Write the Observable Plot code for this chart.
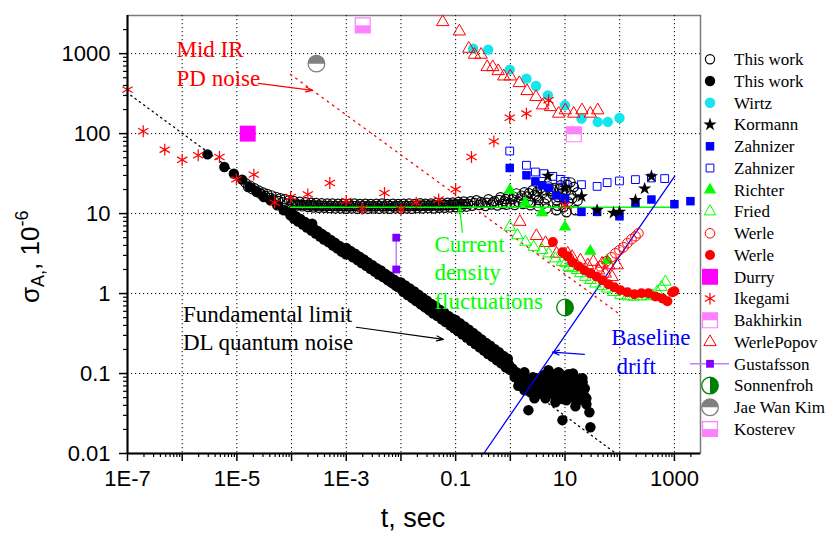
<!DOCTYPE html>
<html><head><meta charset="utf-8">
<script src="https://cdn.jsdelivr.net/npm/d3@7"></script>
<script src="https://cdn.jsdelivr.net/npm/@observablehq/plot@0.6"></script>
<style>
body{margin:0;background:#fff;}
#chart{width:828px;height:533px;}
</style></head><body><div id="chart"></div>
<script>
// ---------- data: [t (s), sigma_A (1e-6)] ----------
const thisWorkOpen = [
[1.45e-5,24],[1.6e-5,21.5],[1.75e-5,22.4],[1.9e-5,20.2],[2.1e-5,20.8],[2.3e-5,18.8],[2.5e-5,19.5],[2.75e-5,17.6],[3e-5,18.4],[3.3e-5,16.6],[3.6e-5,17.6],[4e-5,15.7],[4.3e-5,16.9],[4.7e-5,15.0],[5.2e-5,16.2],[5.7e-5,14.4],[6.2e-5,15.6],[6.8e-5,13.9],[7.5e-5,15.1],[8.2e-5,13.4],[9e-5,14.7],[1e-4,13.0],
[1.1e-4,14.4],[1.26e-4,12.6],[1.4e-4,14.1],[1.58e-4,12.3],[1.8e-4,13.9],[2e-4,12.1],[2.25e-4,13.7],[2.5e-4,11.9],[2.8e-4,13.6],[3.16e-4,11.8],[3.55e-4,13.5],[4e-4,11.8],[4.5e-4,13.4],[5e-4,11.7],[5.6e-4,13.4],[6.3e-4,11.6],[7.1e-4,13.3],[7.9e-4,11.6],[8.9e-4,13.3],
[1.05e-4,13.4],[1.19e-4,13.1],[1.33e-4,13.0],[1.5e-4,12.9],[1.68e-4,12.8],[1.9e-4,12.8],[2.12e-4,12.7],[2.38e-4,12.7],[2.65e-4,12.6],[3e-4,12.6],[3.35e-4,12.6],[3.75e-4,12.5],[4.25e-4,12.5],[4.75e-4,12.5],[5.3e-4,12.5],[6e-4,12.4],[6.7e-4,12.4],[7.5e-4,12.4],[8.4e-4,12.4],[9.4e-4,12.4],
[1e-3,11.5],[1.12e-3,13.2],[1.26e-3,11.6],[1.41e-3,13.4],[1.58e-3,11.5],[1.78e-3,13.2],[2e-3,11.6],[2.24e-3,13.3],[2.5e-3,11.5],[2.8e-3,13.2],[3.16e-3,11.6],[3.55e-3,13.3],[4e-3,11.5],[4.5e-3,13.4],[5e-3,11.6],[5.6e-3,13.2],[6.3e-3,11.5],[7.1e-3,13.3],[7.9e-3,11.6],[8.9e-3,13.2],
[1.06e-3,12.4],[1.19e-3,12.3],[1.33e-3,12.5],[1.5e-3,12.4],[1.68e-3,12.3],[1.9e-3,12.4],[2.12e-3,12.5],[2.38e-3,12.3],[2.65e-3,12.4],[3e-3,12.4],[3.35e-3,12.3],[3.75e-3,12.5],[4.25e-3,12.4],[4.75e-3,12.3],[5.3e-3,12.4],[6e-3,12.5],[6.7e-3,12.4],[7.5e-3,12.3],[8.4e-3,12.4],[9.4e-3,12.5],
[1e-2,11.5],[1.12e-2,13.3],[1.26e-2,11.6],[1.41e-2,13.4],[1.58e-2,11.5],[1.78e-2,13.2],[2e-2,11.7],[2.24e-2,13.5],[2.5e-2,11.6],[2.8e-2,13.3],[3.16e-2,11.7],[3.55e-2,13.4],[4e-2,11.6],[4.5e-2,13.6],[5e-2,11.8],[5.6e-2,13.5],[6.3e-2,11.8],[7.1e-2,13.7],[7.9e-2,11.9],[8.9e-2,13.8],
[1.06e-2,12.4],[1.19e-2,12.5],[1.33e-2,12.4],[1.5e-2,12.5],[1.68e-2,12.4],[1.9e-2,12.6],[2.12e-2,12.5],[2.38e-2,12.5],[2.65e-2,12.6],[3e-2,12.5],[3.35e-2,12.6],[3.75e-2,12.6],[4.25e-2,12.7],[4.75e-2,12.6],[5.3e-2,12.7],[6e-2,12.7],[6.7e-2,12.8],[7.5e-2,12.8],[8.4e-2,12.9],[9.4e-2,13.0],
[0.1,12.0],[0.112,14.0],[0.126,12.1],[0.141,14.2],[0.158,12.2],[0.106,13.0],[0.119,13.1],[0.133,13.1],[0.15,13.2],[0.168,13.3],
[0.187,14.3],[0.2,12.5],[0.24,14.7],[0.27,12.8],[0.309,13.4],[0.35,12.4],[0.398,15.1],[0.45,13.0],[0.512,14.3],[0.58,12.6],[0.659,16.0],[0.72,13.2],[0.78,14.3],[0.86,12.9],[0.923,16.9],[1.0,13.5],[1.09,15.1],[1.2,12.8],[1.29,17.9],[1.4,14.0],[1.53,15.5],[1.7,13.2],[1.81,18.5],[2.0,16.4],[2.14,14.3],[2.33,12.7],[2.4,13.8],[2.54,19.6],[2.8,17.2],[3.0,16.5],[3.27,12.3],[3.3,14.8],[3.55,20.7],[3.9,18.0],[4.2,13.4],[4.57,11.6],[4.6,15.5],[4.97,21.9],[5.4,19.0],[5.89,17.4],[6.4,21.0],[6.97,14.7],[6.97,11.0],[7.5,16.0],[8.24,22.6],[8.8,18.0],[9.35,12.0],[10.6,19.6],[10.6,10.4],[11.5,14.0],[12.6,24.6],[13.6,15.5],[14.5,21.5],[15.5,11.0],[16.9,18.5],[17,14.5],
[0.22,13.6],[0.29,14.0],[0.37,13.7],[0.48,13.8],[0.62,14.8],[0.82,15.2],[1.15,16.3],[1.6,16.8],[2.2,18.0],[3.1,18.8],[4.4,19.5],[6.0,20.0],[8.0,20.5],[11,23.0],[13,17.0],[9.5,15.5],[7.2,12.5]
];
const thisWorkFilled = [
[2.9e-6,55],[5.9e-6,38.2],[8.8e-6,31.6],[1.25e-5,26.6],[1.7e-5,21.5],[2.3e-5,18.6],[3.1e-5,16.1],[4.1e-5,14.7],[5.45e-5,12.7],[7.2e-5,11.0],[9.5e-5,9.5],[1.27e-4,8.25],
[1e-4,10.2],[1.2e-4,9.3],[1.45e-4,8.6],[1.75e-4,7.85],[2.1e-4,7.2],[2.5e-4,6.6],[3e-4,6.07],[3.6e-4,5.56],[4.3e-4,5.15],[5.2e-4,4.68],[6.2e-4,4.34],[7.5e-4,3.93],[9e-4,3.65],
[1.1e-4,8.67],[1.32e-4,7.94],[1.6e-4,7.3],[1.9e-4,6.68],[2.3e-4,6.14],[2.75e-4,5.62],[3.3e-4,5.16],[3.9e-4,4.73],[4.7e-4,4.39],[5.7e-4,3.98],[6.8e-4,3.69],[8.2e-4,3.34],[9.8e-4,3.1],
[2.38e-4,7.5],
[1e-3,3.72],[1.2e-3,3.42],[1.45e-3,3.15],[1.75e-3,2.9],[2.1e-3,2.67],[2.5e-3,2.45],[3e-3,2.26],[3.6e-3,2.08],[4.3e-3,1.94],[5.2e-3,1.76],[6.2e-3,1.64],[7.5e-3,1.49],[9e-3,1.39],
[1.1e-3,3.09],[1.32e-3,2.84],[1.6e-3,2.62],[1.9e-3,2.41],[2.3e-3,2.22],[2.75e-3,2.04],[3.3e-3,1.88],[3.9e-3,1.73],[4.7e-3,1.61],[5.7e-3,1.47],[6.8e-3,1.36],[8.2e-3,1.24],[9.8e-3,1.16],
[1e-2,1.38],[1.2e-2,1.26],[1.45e-2,1.16],[1.75e-2,1.06],[2.1e-2,0.968],[2.5e-2,0.887],[3e-2,0.813],[3.6e-2,0.743],[4.3e-2,0.689],[5.2e-2,0.622],[6.2e-2,0.577],[7.5e-2,0.522],[9e-2,0.483],
[1.05e-2,1.2],[1.26e-2,1.1],[1.52e-2,1.01],[1.82e-2,0.923],[2.2e-2,0.843],[2.62e-2,0.773],[3.15e-2,0.708],[3.75e-2,0.647],[4.5e-2,0.6],[5.45e-2,0.542],[6.5e-2,0.502],[7.85e-2,0.455],[9.4e-2,0.421],
[1.1e-2,1.05],[1.32e-2,0.96],[1.6e-2,0.877],[1.9e-2,0.804],[2.3e-2,0.735],[2.75e-2,0.673],[3.3e-2,0.617],[3.9e-2,0.564],[4.7e-2,0.522],[5.7e-2,0.472],[6.8e-2,0.438],[8.2e-2,0.396],[9.8e-2,0.366],
[0.1,0.468],[0.12,0.427],[0.145,0.387],[0.175,0.353],[0.21,0.321],[0.25,0.292],[0.3,0.266],[0.36,0.242],[0.43,0.223],[0.52,0.201],[0.62,0.185],[0.75,0.166],[0.9,0.153],
[0.105,0.398],[0.126,0.363],[0.152,0.33],[0.182,0.301],[0.22,0.274],[0.262,0.249],[0.315,0.226],[0.375,0.206],[0.45,0.19],[0.545,0.171],[0.65,0.157],[0.785,0.142],[0.94,0.13],
[0.11,0.339],[0.132,0.309],[0.16,0.281],[0.19,0.256],[0.23,0.233],[0.275,0.212],[0.33,0.193],[0.39,0.175],[0.47,0.162],[0.57,0.146],[0.68,0.134],[0.82,0.12],[0.98,0.111],
[1.09,0.116],[1.29,0.104],[1.53,0.0925],[1.81,0.104],[2.14,0.0824],[1.53,0.0734],[2.54,0.0734],[3.0,0.0873],[3.55,0.0694],[4.2,0.0824],[4.97,0.0655],[5.89,0.0925],[6.97,0.0734],[8.24,0.0873],[9.75,0.0655],[11.5,0.098],[13.6,0.0778],[16.1,0.0583],[19.1,0.0694],[22.6,0.052],[24.6,0.0413],[27.9,0.0328],[29.1,0.0213],[8.96,0.0261],[2.14,0.0348],[2.76,0.0491],[4.38,0.0491],[6.67,0.0438],[10.6,0.0464],[15.5,0.039],[4.97,0.11],[7.57,0.104],[3.55,0.0567],[2.33,0.0583],[12.6,0.0535],[20.8,0.0873],[17.6,0.0464],[6.67,0.0583],[9.35,0.0824],[1.81,0.0618],[24.6,0.049],
[1.2,0.09],[1.4,0.085],[1.65,0.088],[1.95,0.078],[2.3,0.07],[2.7,0.065],[3.2,0.075],[3.8,0.06],[4.5,0.07],[5.3,0.058],[6.2,0.08],[7.2,0.062],[8.5,0.055],[10,0.075],[11,0.06],[12,0.085],[14,0.068],[15,0.09],[17,0.075],[19,0.058],[21,0.078],[23,0.065],[5.5,0.1],[6.5,0.052],[8,0.1],[9,0.048],[13,0.05],[16,0.048],[18,0.082],[3,0.055],[2.6,0.09],[1.4,0.07],[7,0.09],[10,0.052],[14,0.1],[4,0.095],[11,0.088],[20,0.062],[4.8,0.085],[3.5,0.08]
];
const wirtz = [[0.209,1155],[0.393,1122],[0.975,631],[1.97,487],[2.95,394],[4.86,301],[10,226],[20,154],[39.6,140],[60.4,140],[99,157]];
const kormann = [[4.86,29.5],[10.1,21.1],[20,16.4],[38.6,11],[77,10.2],[99,10.5],[194,14.7],[286,20.5],[380,29.2]];
const zahnizerFilled = [[0.975,37.2],[1.97,30.1],[2.87,25.3],[3.8,22.6],[5.04,21.1],[6.97,16.9],[10,15.4],[20,10.5],[38.6,10.5],[99,9.25],[194,13.6],[380,15],[1000,13.1],[1963,14.3]];
const zahnizerOpen = [[0.975,60.6],[1.97,40.2],[2.87,33.1],[4.1,31.6],[5.98,29.2],[8.2,26.8],[10,25.3],[20,23],[38.6,21.9],[58.9,24.4],[99,25.6],[194,26.6],[380,27.9],[664,27.4]];
const richter = [[0.975,19.6],[1.87,13.7],[3.8,10.3],[10,6.8],[29,3.4],[59,2.6]];
const fried = [[0.975,6.8],[1.35,5.35],[1.89,4.42],[2.68,3.82],[3.81,3.48],[5.04,3.16],[6.67,2.74],[8.85,2.48],[10.2,2.39],[11.7,2.15],[13.6,2.07],[16.6,1.96],[19.1,1.79],[23.6,1.61],[29.1,1.47],[36,1.33],[46.2,1.23],[58.9,1.15],[76.7,1.04],[103,0.95],[138,0.92],[180,0.91],[239,0.92],[317,0.92],[396,0.95],[483,1.05],[578,1.2],[684,1.4]];
const werleOpen = [[44.4,2.19],[57.1,2.53],[70.5,2.84],[83.4,3.19],[98.8,3.48],[117,3.79],[138,4.26],[164,4.77],[194,5.2],[220,5.67]];
const werleFilled = [[6,4.4],[8.96,3.28],[11.1,2.93],[13.6,2.46],[17.6,2.19],[22.6,1.96],[29.1,1.79],[37.5,1.64],[48.3,1.47],[62.1,1.31],[80,1.2],[103,1.1],[138,1.04],[186,0.98],[249,1.01],[335,1.01],[450,0.92],[604,0.87],[745,0.8],[918,1.04],[1000,1.07]];
const durry = [[1.58e-5,100]];
const ikegami = [[1e-7,355],[1.94e-7,107],[4.8e-7,63],[1e-6,47],[1.96e-6,53.6],[4.8e-6,51],[9.8e-6,26.8],[2.04e-5,30.7],[4.9e-5,13.7],[9.6e-5,16.1],[1.98e-4,17.4],[5e-4,24.1],[1e-3,14.4],[1.95e-3,11.5],[5e-3,18.1],[1e-2,11.3],[0.019,13.7],[0.049,15],[0.1,20.1],[0.195,51],[0.5,80],[0.975,158],[1.97,178],[5,261],[10,12.7]];
const bakhirkin = [[14.5,98]];
const werlePopov = [[0.058,2484],[0.117,1900],[0.174,1155],[0.221,971],[0.292,971],[0.377,680],[0.477,680],[0.6,606],[0.757,520],[1.0,520],[1.46,429],[2.02,341],[2.95,287],[3.9,226],[5.4,215],[7.65,178],[10.1,196],[14.4,178],[20.4,196],[29,178],[39.6,196],
[1.49,7.9],[3.0,5.25],[4.4,4.29],[7.0,3.16],[11.2,3.16],[13.5,2.87],[19.1,2.6],[26,2.26],[33,2.5],[41.3,1.95],[47.6,2.37],[54.5,1.78],[63.2,2.26],[72.6,1.61],[89.6,2.26]];
const gustafsson = [[0.0082,5],[0.0082,2]];
const sonnenfroh = [[10,0.67]];
const jaeWanKim = [[2.85e-4,750]];
const kosterev = [[0.002,2260]];
// guide lines
const quantumLimitLine = [[1.15e-7,301],[77.6,0.0105]];
const pdNoiseLine = [[9.55e-5,551],[94.6,0.567]];
const baselineDriftLine = [[0.327,0.01],[1014,29.5]];
const currentDensityLine = [[9.55e-5,12],[1000,12]];
// annotations
const annotationTexts = ["Mid IR","PD noise","Current","density","fluctuations","Fundamental limit","DL quantum noise","Baseline","drift"];
const annotationPos = [[7.87e-7,899],[7.87e-7,394],[0.0409,3.31],[0.0409,1.47],[0.0409,0.649],[1.03e-6,0.442],[1.03e-6,0.196],[69.7,0.226],[87,0.1]];
const annotationColors = ["red","red","#00ff00","#00ff00","#00ff00","black","black","blue","blue"];
const arrows = [[2.48e-5,425,2.41e-4,348],[1.53e-3,0.379,0.0598,0.268],[0.133,5.84,0.1175,12.3],[22.6,0.174,5.89,0.185]];
const arrowColors = ["red","black","#00ff00","blue"];
// ticks
const xTickValues = [1e-7,1e-5,1e-3,0.1,10,1000];
const xTickLabels = ["1E-7","1E-5","1E-3","0.1","10","1000"];
const yTickValues = [0.01,0.1,1,10,100,1000];
const yTickLabels = ["0.01","0.1","1","10","100","1000"];
const legendNames = ["This work","This work","Wirtz","Kormann","Zahnizer","Zahnizer","Richter","Fried","Werle","Werle","Durry","Ikegami","Bakhirkin","WerlePopov","Gustafsson","Sonnenfroh","Jae Wan Kim","Kosterev"];

// ---------- symbols ----------
const halfTopSquare = {draw(c, s){const w=Math.sqrt(s)/2; c.rect(-w,-w,2*w,w);}};
const halfBottomSquare = {draw(c, s){const w=Math.sqrt(s)/2; c.rect(-w,0,2*w,w);}};
const halfRightCircle = {draw(c, s){const r=Math.sqrt(s/Math.PI); c.moveTo(0,-r); c.arc(0,0,r,-Math.PI/2,Math.PI/2,false); c.closePath();}};
const halfTopCircle = {draw(c, s){const r=Math.sqrt(s/Math.PI); c.moveTo(r,0); c.arc(0,0,r,0,Math.PI,true); c.closePath();}};
const S = {circle:d3.symbolCircle, square:d3.symbolSquare, tri:d3.symbolTriangle, star:d3.symbolStar, ast:d3.symbolAsterisk};

const series = [
 {data: thisWorkOpen, layers:[{symbol:S.circle, fill:"none", stroke:"black", r:4.6, sw:1.2}]},
 {data: thisWorkFilled, layers:[{symbol:S.circle, fill:"black", stroke:"none", r:5.2}]},
 {data: wirtz, layers:[{symbol:S.circle, fill:"#14e6ee", stroke:"none", r:5.2}]},
 {data: kormann, layers:[{symbol:S.star, fill:"black", stroke:"none", r:4.2}]},
 {data: zahnizerFilled, layers:[{symbol:S.square, fill:"#0000ff", stroke:"none", r:4.8}]},
 {data: zahnizerOpen, layers:[{symbol:S.square, fill:"none", stroke:"#0000ff", r:4.4, sw:1}]},
 {data: richter, layers:[{symbol:S.tri, fill:"#00ff00", stroke:"none", r:4.6}]},
 {data: fried, layers:[{symbol:S.tri, fill:"none", stroke:"#00ff00", r:4.3, sw:1}]},
 {data: werleOpen, layers:[{symbol:S.circle, fill:"none", stroke:"red", r:4.8, sw:1}]},
 {data: werleFilled, layers:[{symbol:S.circle, fill:"red", stroke:"none", r:5}]},
 {data: durry, layers:[{symbol:S.square, fill:"#ff00ff", stroke:"none", r:9}]},
 {data: ikegami, layers:[{symbol:S.ast, fill:"none", stroke:"red", r:5.6, sw:1.2}]},
 {data: bakhirkin, layers:[{symbol:S.square, fill:"white", stroke:"#ff80ff", r:8.4, sw:1.2},{symbol:halfTopSquare, fill:"#ff80ff", stroke:"none", r:8.4}]},
 {data: werlePopov, layers:[{symbol:S.tri, fill:"none", stroke:"red", r:4.6, sw:1}]},
 {data: gustafsson, layers:[{symbol:S.square, fill:"#7f00ff", stroke:"none", r:4.4}], line:"#c080ff"},
 {data: sonnenfroh, layers:[{symbol:S.circle, fill:"white", stroke:"#008000", r:8.3, sw:1.3},{symbol:halfRightCircle, fill:"#008000", stroke:"none", r:8.3}]},
 {data: jaeWanKim, layers:[{symbol:S.circle, fill:"white", stroke:"#808080", r:8.3, sw:1.3},{symbol:halfTopCircle, fill:"#808080", stroke:"none", r:8.3}]},
 {data: kosterev, layers:[{symbol:S.square, fill:"white", stroke:"#ff80ff", r:8.4, sw:1.2},{symbol:halfBottomSquare, fill:"#ff80ff", stroke:"none", r:8.4}]}
];

const X = d => d[0], Y = d => d[1];
const xDecades = d3.range(-7, 4).map(e => Math.pow(10, e));
const yDecades = d3.range(-2, 4).map(e => Math.pow(10, e));
const minorOf = (dec, max) => dec.flatMap(d => d3.range(2, 10).map(k => k * d)).filter(v => v < max);
const xMinor = minorOf(xDecades, 3000);
const yMinor = minorOf(yDecades, 3000);

const marks = [];
marks.push(Plot.frame({stroke:"#7a7a7a", strokeWidth:1.5}));
marks.push(Plot.gridX(xDecades.slice(1), {stroke:"black", strokeOpacity:1, strokeDasharray:"1.2,2.8", strokeWidth:1}));
marks.push(Plot.gridY(yDecades.slice(1), {stroke:"black", strokeOpacity:1, strokeDasharray:"1.2,2.8", strokeWidth:1}));
marks.push(Plot.line(quantumLimitLine, {x:X, y:Y, stroke:"black", strokeWidth:1.3, strokeDasharray:"1.3,4"}));
marks.push(Plot.line(pdNoiseLine, {x:X, y:Y, stroke:"red", strokeWidth:1.3, strokeDasharray:"1.5,5"}));
const drawSeries = (sr) => {
  if (sr.line) marks.push(Plot.line(sr.data, {x:X, y:Y, stroke:sr.line, strokeWidth:1.5}));
  for (const L of sr.layers) marks.push(Plot.dot(sr.data, {x:X, y:Y, symbol:L.symbol, r:L.r, fill:L.fill, stroke:L.stroke, strokeWidth:L.sw || 1}));
};
drawSeries(series[0]);
drawSeries(series[1]);
marks.push(Plot.line(currentDensityLine, {x:X, y:Y, stroke:"#00ff00", strokeWidth:1.3}));
marks.push(Plot.line(baselineDriftLine, {x:X, y:Y, stroke:"blue", strokeWidth:1.3}));
for (const i of [5,4,3,2,13,7,6,8,9,10,12,14,15,16,17,11]) drawSeries(series[i]);
arrows.forEach((a, i) => marks.push(Plot.arrow([a], {x1:d=>d[0], y1:d=>d[1], x2:d=>d[2], y2:d=>d[3], stroke:arrowColors[i], strokeWidth:1.2, headLength:9, headAngle:40})));
marks.push(Plot.text(annotationTexts.map((t,i)=>({t, x:annotationPos[i][0], y:annotationPos[i][1], c:annotationColors[i]})), {x:"x", y:"y", text:"t", fill:"c", textAnchor:"start", lineAnchor:"bottom", fontFamily:"Liberation Serif, Times New Roman, serif", fontSize:23}));
marks.push(Plot.ruleX([1e-7], {stroke:"black", strokeWidth:2}));
marks.push(Plot.ruleY([0.01], {stroke:"black", strokeWidth:2}));
marks.push(Plot.axisX(xDecades, {tickSize:8, tickPadding:9, strokeWidth:1.5, tickFormat:d => { const i = xTickValues.indexOf(d); return i < 0 ? "" : xTickLabels[i]; }, label:null, fontSize:22}));
marks.push(Plot.axisX(xMinor, {tickSize:4, strokeWidth:1.2, tickFormat:() => "", label:null}));
marks.push(Plot.axisY(yDecades, {tickSize:8, tickPadding:9, strokeWidth:1.5, tickFormat:d => { const i = yTickValues.indexOf(d); return i < 0 ? "" : yTickLabels[i]; }, label:null, fontSize:22}));
marks.push(Plot.axisY(yMinor, {tickSize:4, strokeWidth:1.2, tickFormat:() => "", label:null}));

const el = Plot.plot({
  width:828, height:533,
  marginLeft:127, marginRight:128, marginTop:15, marginBottom:80,
  x:{type:"log", domain:[1e-7, 3000]},
  y:{type:"log", domain:[0.01, 3000]},
  style:{fontFamily:"Liberation Sans, Arial, sans-serif", fontSize:"22px", color:"black", background:"white", overflow:"visible"},
  marks
});
document.getElementById("chart").appendChild(el);
const svg = d3.select(el.tagName.toLowerCase() === "svg" ? el : el.querySelector("svg"));

// axis titles
const yl = svg.append("text").attr("transform","translate(39,303) rotate(-90)").attr("text-anchor","start").attr("font-family","Liberation Sans, Arial, sans-serif").attr("font-size",26).attr("fill","black");
yl.append("tspan").text("σ");
yl.append("tspan").attr("font-size",18).attr("dy",5).text("A,");
yl.append("tspan").attr("dy",-5).text(", 10");
yl.append("tspan").attr("font-size",18).attr("dy",-11).text("-6");
svg.append("text").attr("x",413).attr("y",527).attr("text-anchor","middle").attr("font-family","Liberation Sans, Arial, sans-serif").attr("font-size",27).attr("fill","black").text("t, sec");

// legend
const lg = svg.append("g").attr("text-anchor","start");
series.forEach((sr, i) => {
  const cy = 59.3 + i * 21.75, cx = 710;
  if (sr.line) lg.append("line").attr("x1",690).attr("x2",729).attr("y1",cy).attr("y2",cy).attr("stroke",sr.line).attr("stroke-width",1.5);
  for (const L of sr.layers) {
    lg.append("path").attr("transform",`translate(${cx},${cy})`).attr("d", d3.symbol(L.symbol, Math.PI * L.r * L.r)())
      .attr("fill", L.fill).attr("stroke", L.stroke).attr("stroke-width", L.sw || 1);
  }
  lg.append("text").attr("x",734).attr("y",cy + 5.8).attr("text-anchor","start").attr("font-family","Liberation Serif, Times New Roman, serif").attr("font-size",17).attr("fill","black").text(legendNames[i]);
});
</script></body></html>
